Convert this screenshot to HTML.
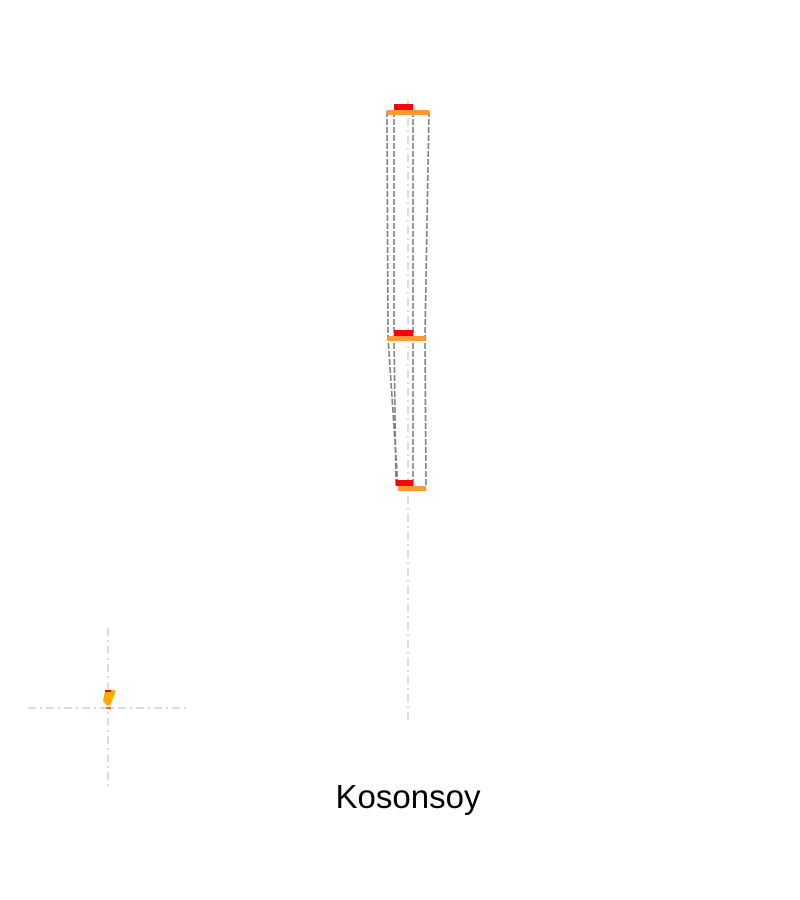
<!DOCTYPE html>
<html><head><meta charset="utf-8"><style>
html,body{margin:0;padding:0;background:#fff;width:800px;height:900px;overflow:hidden}
svg{display:block}
</style></head><body>
<svg id="chart" width="800" height="900" xmlns="http://www.w3.org/2000/svg">
<g id="main"></g>
<g id="inset"></g>
<text x="408" y="808" text-anchor="middle" font-family="Liberation Sans, sans-serif" font-size="33" fill="#000">Kosonsoy</text>
</svg>
<script>
const levels = ["top", "middle", "bottom"];
const depths = [0, 226, 376];
const redLeft = [-14, -14, -12];
const redRight = [5, 5, 5];
const orangeLeft = [-21, -20, -10];
const orangeRight = [21, 17, 18];

const NS = "http://www.w3.org/2000/svg";
const cx = 408;
function yScale(v){ return 107 + v; }
function xScale(v){ return cx + v; }
function mk(tag, attrs, parent){
  const e = document.createElementNS(NS, tag);
  for (const k in attrs) e.setAttribute(k, attrs[k]);
  parent.appendChild(e);
  return e;
}
const main = document.getElementById('main');
const inset = document.getElementById('inset');

const axis = mk('line', {x1:cx, y1:100, x2:cx, y2:722, stroke:'#dddddd', 'stroke-width':2, 'stroke-dasharray':'8,4,2,4'}, main);



function polyline(xs, name){
  const pts = depths.map((d,i)=> xScale(xs[i]) + ',' + (yScale(d)+4)).join(' ');
  const p = mk('polyline', {points:pts, fill:'none', stroke:'#808080', 'stroke-width':1.6, 'stroke-dasharray':'6,2'}, main);
  
  
}
polyline(orangeLeft, 'outer-left-line');
polyline(redLeft, 'inner-left-line');
polyline(redRight, 'inner-right-line');
polyline(orangeRight, 'outer-right-line');

levels.forEach((lv, i) => {
  const y = yScale(depths[i]);
  const r = mk('rect', {x:xScale(redLeft[i]), y:y-3, width:redRight[i]-redLeft[i], height:6, fill:'#ff0000'}, main);
  
  
  const o = mk('rect', {x:xScale(orangeLeft[i]), y:y+3, width:orangeRight[i]-orangeLeft[i], height:5, fill:'#ff9933'}, main);
  
  
});

const ix = 108, iy = 708;
const h = mk('line', {x1:28, y1:iy, x2:188, y2:iy, stroke:'#dddddd', 'stroke-width':2, 'stroke-dasharray':'8,4,2,4'}, inset);


const v = mk('line', {x1:ix, y1:628, x2:ix, y2:788, stroke:'#dddddd', 'stroke-width':2, 'stroke-dasharray':'8,4,2,4'}, inset);


const g = mk('polygon', {points:'105,691 116,690 111,704 107,706 103,701', fill:'#ffaa00'}, inset);


const rr = mk('rect', {x:105, y:690, width:6, height:2, fill:'#ff0000'}, inset);


const ro = mk('rect', {x:106, y:707, width:5, height:2, fill:'#ff6633'}, inset);


</script>
</body></html>
